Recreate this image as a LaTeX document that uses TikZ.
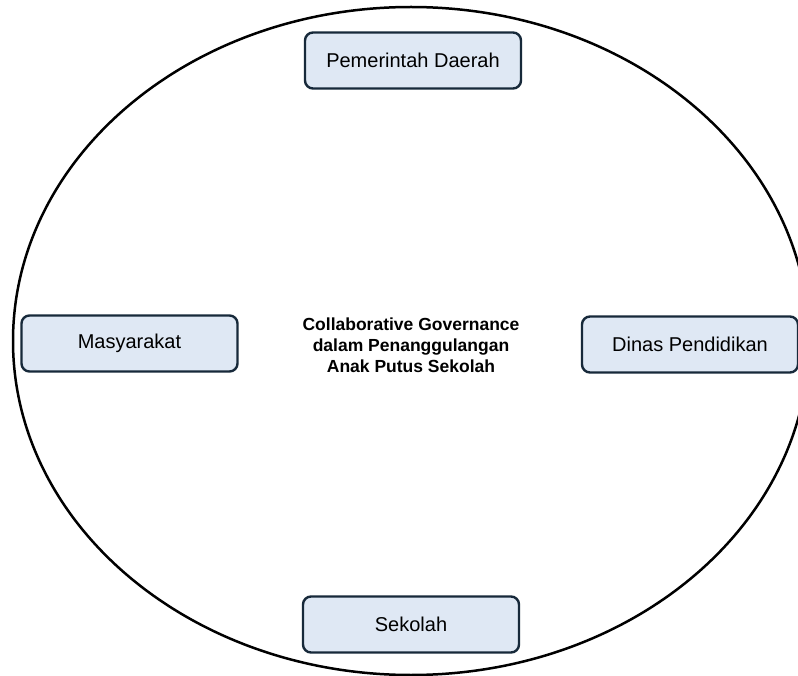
\documentclass[tikz,border=0pt]{standalone}
\usepackage{fontspec}
\setmainfont{Liberation Sans}
\definecolor{boxfill}{HTML}{DFE8F4}
\definecolor{boxline}{HTML}{17293A}
\begin{document}
\begin{tikzpicture}[x=1pt,y=-1pt,
  actor/.style={draw=boxline, line width=2.4pt, fill=boxfill, rounded corners=8pt,
    minimum width=216pt, minimum height=56pt, inner sep=0pt,
    font=\fontsize{20}{24}\selectfont, text=black},
  core/.style={align=center, font=\fontsize{17.5}{21}\selectfont\bfseries, text=black}]
\useasboundingbox (0,0) rectangle (798,676);
\clip (0,0) rectangle (798,676);
\fill[white] (0,0) rectangle (798,676);
\draw[line width=2.5pt, black] (411,341) ellipse [x radius=398pt, y radius=334pt];
\node[actor] (pd) at (413,60.5) {Pemerintah Daerah};
\node[actor] (ms) at (129.5,343.5) {Masyarakat};
\node[actor] (dp) at (690,344.5) {Dinas Pendidikan};
\node[actor] (sk) at (411,624.5) {Sekolah};
\node[core] (cg) at (411,345) {Collaborative Governance\\dalam Penanggulangan\\Anak Putus Sekolah};
\end{tikzpicture}
\end{document}
